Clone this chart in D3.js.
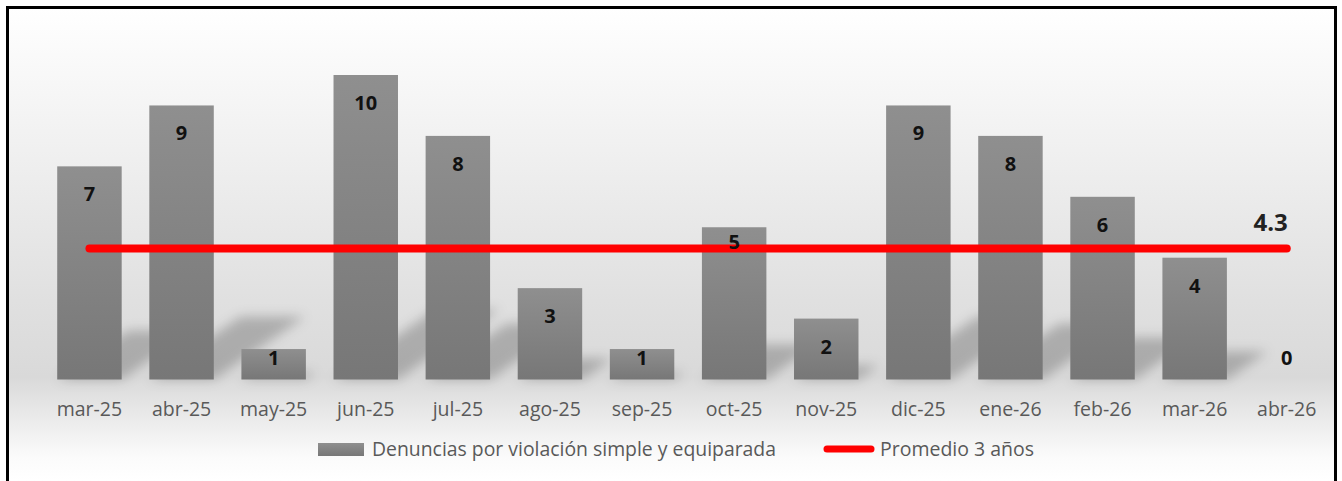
<!DOCTYPE html>
<html><head><meta charset="utf-8">
<script src="https://cdn.jsdelivr.net/npm/d3@7/dist/d3.min.js"></script>
<style>html,body{margin:0;padding:0;background:#fff;}svg{display:block;}</style>
</head><body>
<svg id="chart" width="1342" height="481"></svg>
<script>
const categories = ["mar-25","abr-25","may-25","jun-25","jul-25","ago-25","sep-25","oct-25","nov-25","dic-25","ene-26","feb-26","mar-26","abr-26"];
const denuncias = [7, 9, 1, 10, 8, 3, 1, 5, 2, 9, 8, 6, 4, 0];
const promedio = 4.3;
const seriesNames = ["Denuncias por violación simple y equiparada", "Promedio 3 años"];

const W = 1342, H = 481;
const svg = d3.select("#chart");
const defs = svg.append("defs");

const bg = defs.append("linearGradient").attr("id","bg").attr("gradientUnits","userSpaceOnUse")
  .attr("x1",0).attr("y1",8).attr("x2",0).attr("y2",481);
[[0,"#ffffff"],[0.3,"#f0f0f0"],[0.62,"#e0e0e0"],[0.78,"#d9d9d9"],[0.86,"#e9e9e9"],[0.95,"#fbfbfb"],[1,"#ffffff"]]
  .forEach(([o,c])=>bg.append("stop").attr("offset",o).attr("stop-color",c));

const barG = defs.append("linearGradient").attr("id","barg").attr("x1",0).attr("y1",0).attr("x2",0).attr("y2",1);
barG.append("stop").attr("offset",0).attr("stop-color","#8f8f8f");
barG.append("stop").attr("offset",1).attr("stop-color","#777777");

const blur = defs.append("filter").attr("id","sh").attr("x","-50%").attr("y","-50%").attr("width","200%").attr("height","200%");
blur.append("feGaussianBlur").attr("stdDeviation",6);

svg.append("rect").attr("x",7.5).attr("y",7.5).attr("width",1328).attr("height",490)
  .attr("fill","url(#bg)").attr("stroke","#000").attr("stroke-width",3);

const x = d3.scaleBand().domain(categories).range([43.4, 1332.8]).paddingInner(0.3).paddingOuter(0.15);
const y = d3.scaleLinear().domain([0, 10]).range([379.5, 75]);
const base = y(0);

// shadows
const shadowG = svg.append("g").attr("filter","url(#sh)");
shadowG.selectAll("path").data(categories.map((c,i)=>({c,v:denuncias[i]})).filter(d=>d.v>0))
  .join("path")
  .attr("d", d => {
    const h = base - y(d.v);
    const dy = h*0.23, dx = dy*1.45;
    const x0 = x(d.c), x1 = x0 + x.bandwidth();
    return `M${x0},${base}L${x1},${base}L${x1+dx},${base-dy}L${x0+dx},${base-dy}Z`;
  })
  .attr("fill","#000").attr("opacity",0.22);

// bars
svg.append("g").selectAll("rect").data(categories.map((c,i)=>({c,v:denuncias[i]})))
  .join("rect")
  .attr("x", d=>x(d.c)).attr("width", x.bandwidth())
  .attr("y", d=>y(d.v)).attr("height", d=>base - y(d.v))
  .attr("fill","url(#barg)");

// axis
const axis = svg.append("g").attr("transform",`translate(0,${base})`)
  .call(d3.axisBottom(x).tickSize(0).tickPadding(0));
axis.select(".domain").remove();
axis.selectAll("text").attr("dy",null).attr("y",36.5)
  .attr("font-family","'Open Sans', sans-serif").attr("font-size",19.5).attr("fill","#595959");

// average line
const lineData = categories.map(c=>({c, v:promedio}));
svg.append("path").datum(lineData)
  .attr("d", d3.line().x(d=>x(d.c)+x.bandwidth()/2).y(d=>y(d.v)))
  .attr("fill","none").attr("stroke","#ff0000").attr("stroke-width",8).attr("stroke-linecap","round");

// bar labels
svg.append("g").selectAll("text").data(categories.map((c,i)=>({c,v:denuncias[i],i})))
  .join("text")
  .attr("x", d=>x(d.c)+x.bandwidth()/2)
  .attr("y", d=>{
    const off = d.c === "oct-25" ? 14.5 : 28;
    return Math.min(y(d.v)+off, base-22);
  })
  .attr("dy","0.35em").attr("text-anchor","middle")
  .attr("font-family","'Open Sans', sans-serif").attr("font-weight","bold").attr("font-size",20)
  .attr("fill","#111").text(d=>d.v);

// average label
svg.append("text").attr("x", x(categories[categories.length-1])+x.bandwidth()/2 + 1).attr("y", y(promedio)-26)
  .attr("dy","0.35em").attr("text-anchor","end")
  .attr("font-family","'Open Sans', sans-serif").attr("font-weight","bold").attr("font-size",24)
  .attr("fill","#222").text(promedio.toFixed(1));

// legend
const lg = svg.append("g");
lg.append("rect").attr("x",318).attr("y",443).attr("width",46).attr("height",13).attr("fill","url(#barg)");
const t1 = lg.append("text").attr("x",372).attr("y",449).attr("dy","0.35em")
  .attr("font-family","'Open Sans', sans-serif").attr("font-size",19.5).attr("fill","#595959").text(seriesNames[0]);
lg.append("line").attr("x1",827).attr("x2",871).attr("y1",449).attr("y2",449)
  .attr("stroke","#ff0000").attr("stroke-width",7).attr("stroke-linecap","round");
const t2 = lg.append("text").attr("x",880).attr("y",449).attr("dy","0.35em")
  .attr("font-family","'Open Sans', sans-serif").attr("font-size",19.5).attr("fill","#595959").text(seriesNames[1]);
[[t1,404],[t2,154]].forEach(([t,w])=>{
  if (t.node().getComputedTextLength() > w) t.attr("textLength",w).attr("lengthAdjust","spacingAndGlyphs");
});
</script>
</body></html>
